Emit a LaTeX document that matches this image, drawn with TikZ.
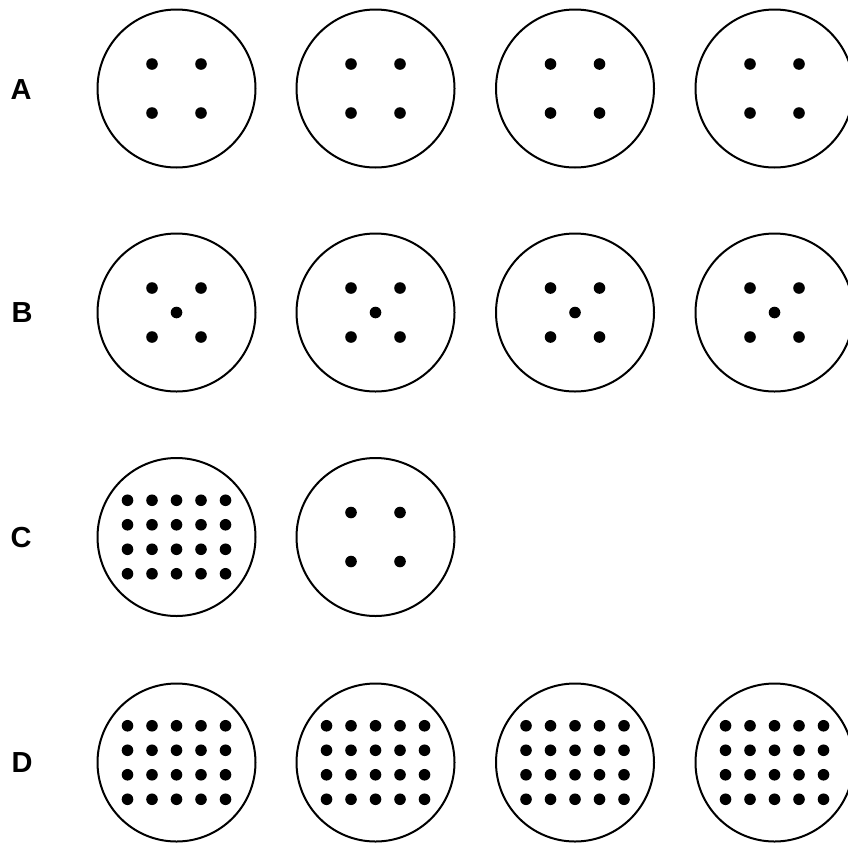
\documentclass[tikz,border=0pt]{standalone}
\usepackage{fontspec}
\setmainfont{Liberation Sans}
\usetikzlibrary{calc}
\begin{document}
\begin{tikzpicture}[x=1pt,y=-1pt,
  dish/.style={draw=black,line width=2pt,circle,minimum size=158pt,inner sep=0pt,fill=white},
  rowlabel/.style={font=\fontsize{29}{29}\selectfont\bfseries,inner sep=0pt,anchor=center},
  dot/.style={fill=black}]
\useasboundingbox (0,0) rectangle (848,844);
% labels
\node[rowlabel] (lA) at (21,90) {A};
\node[rowlabel] (lB) at (22,313) {B};
\node[rowlabel] (lC) at (21,538) {C};
\node[rowlabel] (lD) at (22,763) {D};
% row A
\foreach \i/\x in {1/176.5,2/375.5,3/575,4/774.5}{
  \node[dish] (A\i) at (\x,88.5) {};
  \foreach \dx in {-24.5,24.5} \foreach \dy in {-24.5,24.5}
    \fill[dot] ($(A\i.center)+(\dx,\dy)$) circle (5.8);
}
% row B
\foreach \i/\x in {1/176.5,2/375.5,3/575,4/774.5}{
  \node[dish] (B\i) at (\x,312.5) {};
  \foreach \dx in {-24.5,24.5} \foreach \dy in {-24.5,24.5}
    \fill[dot] ($(B\i.center)+(\dx,\dy)$) circle (5.8);
  \fill[dot] (B\i.center) circle (5.8);
}
% row C
\node[dish] (C1) at (176.5,537) {};
\foreach \dx in {-49,-24.5,0,24.5,49} \foreach \dy in {-36.75,-12.25,12.25,36.75}
  \fill[dot] ($(C1.center)+(\dx,\dy)$) circle (5.8);
\node[dish] (C2) at (375.5,537) {};
\foreach \dx in {-24.5,24.5} \foreach \dy in {-24.5,24.5}
  \fill[dot] ($(C2.center)+(\dx,\dy)$) circle (5.8);
% row D
\foreach \i/\x in {1/176.5,2/375.5,3/575,4/774.5}{
  \node[dish] (D\i) at (\x,762.5) {};
  \foreach \dx in {-49,-24.5,0,24.5,49} \foreach \dy in {-36.75,-12.25,12.25,36.75}
    \fill[dot] ($(D\i.center)+(\dx,\dy)$) circle (5.8);
}
\end{tikzpicture}
\end{document}
